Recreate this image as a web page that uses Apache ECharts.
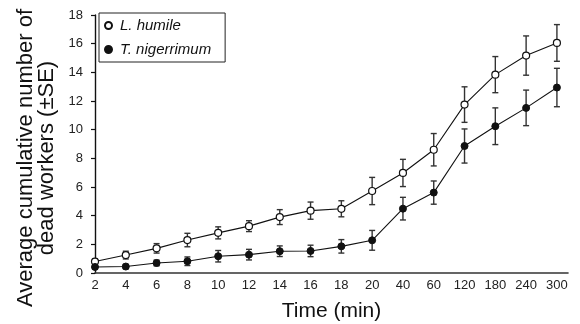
<!DOCTYPE html>
<html>
<head>
<meta charset="utf-8">
<script src="https://cdn.jsdelivr.net/npm/echarts@6/dist/echarts.min.js"></script>
<style>
  html, body { margin: 0; padding: 0; background: #fff; }
  #chart { width: 580px; height: 324px; }
</style>
</head>
<body>
<div id="chart"></div>
<script>
// time points (min), shown as evenly spaced categories
var times = ['2', '4', '6', '8', '10', '12', '14', '16', '18', '20', '40', '60', '120', '180', '240', '300'];

// L. humile: mean and SE
var humileMean = [0.8, 1.25, 1.72, 2.3, 2.8, 3.27, 3.9, 4.35, 4.48, 5.72, 6.98, 8.6, 11.75, 13.84, 15.17, 16.05];
var humileSE = [0.2, 0.27, 0.33, 0.47, 0.42, 0.38, 0.52, 0.6, 0.56, 0.95, 0.95, 1.13, 1.24, 1.26, 1.37, 1.28];

// T. nigerrimum: mean and SE
var nigerMean = [0.42, 0.45, 0.7, 0.82, 1.17, 1.28, 1.52, 1.54, 1.86, 2.28, 4.49, 5.61, 8.86, 10.24, 11.52, 12.94];
var nigerSE = [0.15, 0.15, 0.2, 0.3, 0.4, 0.37, 0.37, 0.4, 0.47, 0.69, 0.79, 0.81, 1.19, 1.28, 1.24, 1.34];

var yTicks = { min: 0, max: 18, step: 2 };

function pts(arr) {
  return arr.map(function (v, i) { return [i, v]; });
}
function bars(mean, se) {
  return mean.map(function (v, i) { return [i, v - se[i], v + se[i]]; });
}

function errorBar(params, api) {
  var x = api.value(0);
  var lo = api.coord([x, api.value(1)]);
  var hi = api.coord([x, api.value(2)]);
  var cap = 3;
  var style = { stroke: '#333', lineWidth: 1.4 };
  return {
    type: 'group',
    children: [
      { type: 'line', shape: { x1: lo[0], y1: lo[1], x2: hi[0], y2: hi[1] }, style: style },
      { type: 'line', shape: { x1: lo[0] - cap, y1: lo[1], x2: lo[0] + cap, y2: lo[1] }, style: style },
      { type: 'line', shape: { x1: hi[0] - cap, y1: hi[1], x2: hi[0] + cap, y2: hi[1] }, style: style }
    ]
  };
}

var chart = echarts.init(document.getElementById('chart'), null, { renderer: 'canvas' });

var option = {
  backgroundColor: '#fff',
  animation: false,
  textStyle: { fontFamily: 'Liberation Sans, Arial, sans-serif' },
  grid: { left: 95, right: 12, top: 15, bottom: 51, containLabel: false, outerBoundsMode: 'none' },
  legend: {
    left: 99,
    top: 13,
    orient: 'vertical',
    data: ['L. humile', 'T. nigerrimum'],
    icon: 'circle',
    itemWidth: 7,
    itemHeight: 7,
    itemGap: 9,
    padding: [5, 14, 5, 5],
    borderColor: '#222',
    borderWidth: 1,
    textStyle: { fontSize: 15, fontStyle: 'italic', color: '#111', padding: [0, 0, 0, 3], fontFamily: 'Liberation Sans, Arial, sans-serif' }
  },
  xAxis: {
    type: 'value',
    min: 0,
    max: 15.36,
    interval: 1,
    name: 'Time (min)',
    nameLocation: 'middle',
    nameGap: 28,
    nameTextStyle: { fontSize: 21, color: '#111', verticalAlign: 'top' },
    axisLine: { show: true, lineStyle: { color: '#333', width: 1.6 } },
    axisTick: { show: false },
    splitLine: { show: false },
    axisLabel: {
      fontSize: 13,
      color: '#222',
      margin: 6,
      showMaxLabel: false,
      formatter: function (v) {
        var i = Math.round(v);
        return Math.abs(v - i) < 1e-6 && times[i] !== undefined ? times[i] : '';
      }
    }
  },
  yAxis: {
    type: 'value',
    min: yTicks.min,
    max: yTicks.max,
    interval: yTicks.step,
    name: 'Average cumulative number of\ndead workers (±SE)',
    nameLocation: 'middle',
    nameRotate: 90,
    nameGap: 37,
    nameTextStyle: { fontSize: 22, color: '#111', lineHeight: 21, align: 'center', padding: [0, 28, 0, 0] },
    axisLine: { show: true, lineStyle: { color: '#111', width: 1.4 } },
    axisTick: { show: true, inside: false, length: 4, lineStyle: { color: '#111', width: 1.2 } },
    splitLine: { show: false },
    axisLabel: { fontSize: 13, color: '#222', margin: 12 }
  },
  series: [
    {
      name: 'humileErr',
      type: 'custom',
      renderItem: errorBar,
      data: bars(humileMean, humileSE),
      encode: { x: 0, y: [1, 2] },
      z: 1
    },
    {
      name: 'nigerErr',
      type: 'custom',
      renderItem: errorBar,
      data: bars(nigerMean, nigerSE),
      encode: { x: 0, y: [1, 2] },
      z: 1
    },
    {
      name: 'L. humile',
      type: 'line',
      data: pts(humileMean),
      symbol: 'circle',
      symbolSize: 7,
      lineStyle: { color: '#111', width: 1.1 },
      itemStyle: { color: '#fff', borderColor: '#111', borderWidth: 1.2 },
      z: 3
    },
    {
      name: 'T. nigerrimum',
      type: 'line',
      data: pts(nigerMean),
      symbol: 'circle',
      symbolSize: 7,
      lineStyle: { color: '#111', width: 1.1 },
      itemStyle: { color: '#111', borderColor: '#111', borderWidth: 1 },
      z: 3
    }
  ]
};

chart.setOption(option);
</script>
</body>
</html>
